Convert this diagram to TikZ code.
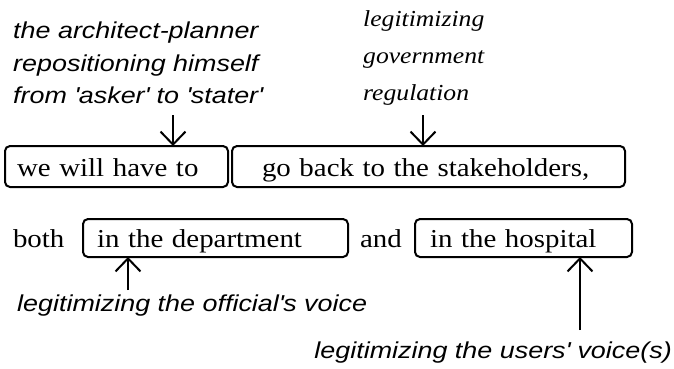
\documentclass[tikz,border=0pt]{standalone}
\usepackage{fontspec}
\setmainfont{Liberation Serif}
\newfontfamily\boxfont[FakeStretch=1.12]{Liberation Serif}
\newfontfamily\notefont[FakeStretch=1.17]{Liberation Sans}
\usetikzlibrary{arrows.meta}

\begin{document}
\begin{tikzpicture}[x=1pt,y=-1pt,
  phrase/.style={font=\boxfont\fontsize{25.8}{30}\selectfont, inner sep=0pt, outer sep=0pt, anchor=base west},
  phrasebox/.style={phrase, draw, line width=2pt, rounded corners=5pt, align=left},
  toprow/.style={phrasebox, text height=30pt, text depth=11pt},
  botrow/.style={phrasebox, text height=28pt, text depth=10pt},
  gloss/.style={font=\boxfont\itshape\fontsize{22.9}{26}\selectfont, inner sep=0pt, anchor=base west},
  note/.style={font=\notefont\itshape\fontsize{23}{27}\selectfont, inner sep=0pt, anchor=base west},
  pointer/.style={line width=2pt, -{Straight Barb[length=13pt,width=25pt,line width=2pt]}}]
\useasboundingbox (0,0) rectangle (674,368);

% commentary on the speaker (upper left)
\node[note] (rep1) at (13,38) {the architect-planner};
\node[note] (rep2) at (13,71) {repositioning himself};
\node[note] (rep3) at (13,103) {from \textquotesingle asker\textquotesingle\ to \textquotesingle stater\textquotesingle};

% commentary on the regulation (upper right)
\node[gloss] (reg1) at (363,26) {legitimizing};
\node[gloss] (reg2) at (363,63) {government};
\node[gloss] (reg3) at (363,100) {regulation};

% first line of the utterance
\node[toprow, text width=199pt, inner xsep=12pt] (have) at (5,176) {we will have to};
\node[toprow, text width=333pt, inner xsep=30pt] (back) at (232,176) {go back to the stakeholders,};

% second line of the utterance
\node[phrase] (both) at (13,247) {both};
\node[botrow, text width=237pt, inner xsep=14pt] (dept) at (83,247) {in the department};
\node[phrase] (and) at (360,247) {and};
\node[botrow, text width=187pt, inner xsep=15pt] (hosp) at (415,247) {in the hospital};

% commentary on the voices (bottom)
\node[note] (official) at (17,311) {legitimizing the official\textquotesingle s voice};
\node[note, anchor=base east] (users) at (672,358) {legitimizing the users\textquotesingle\ voice(s)};

% arrow tails
\coordinate (t1) at (173,115);
\coordinate (t2) at (423,115);
\coordinate (t3) at (128,290);
\coordinate (t4) at (580,330);

\draw[pointer] (t1) -- (t1 |- have.north);
\draw[pointer] (t2) -- (t2 |- back.north);
\draw[pointer] (t3) -- (t3 |- dept.south);
\draw[pointer] (t4) -- (t4 |- hosp.south);
\end{tikzpicture}
\end{document}
